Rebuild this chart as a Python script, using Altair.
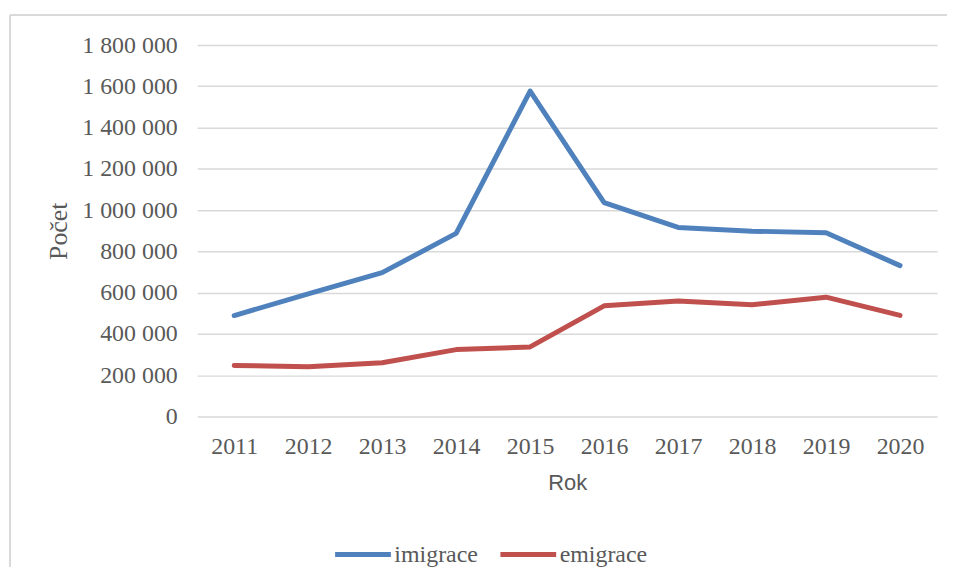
import altair as alt
import pandas as pd

years = ["2011", "2012", "2013", "2014", "2015", "2016", "2017", "2018", "2019", "2020"]
imigrace = [489000, 594000, 697000, 887000, 1577000, 1036000, 916000, 898000, 890000, 731000]
emigrace = [247000, 241000, 260000, 324000, 337000, 536000, 559000, 541000, 578000, 490000]
series_names = ["imigrace", "emigrace"]
series_colors = ["#4F81BD", "#C0504D"]
y_ticks = [0, 200000, 400000, 600000, 800000, 1000000, 1200000, 1400000, 1600000, 1800000]

rows = []
for name, vals in zip(series_names, [imigrace, emigrace]):
    for yr, v in zip(years, vals):
        rows.append({"Rok": yr, "Počet": v, "serie": name})
df = pd.DataFrame(rows)

label_color = "#595959"
serif = "Liberation Serif"

lines = alt.Chart(df).mark_line(strokeWidth=5, strokeCap="round", strokeJoin="round").encode(
    x=alt.X("Rok:N", sort=years,
            scale=alt.Scale(paddingInner=0, paddingOuter=0.5),
            axis=alt.Axis(title="Rok", labelAngle=0, ticks=False, domain=False,
                          labelFont=serif, labelFontSize=24, labelColor=label_color,
                          labelPadding=18, titleFont="Liberation Sans", titleFontSize=22,
                          titleFontWeight="normal", titleColor=label_color, titlePadding=14)),
    y=alt.Y("Počet:Q", scale=alt.Scale(domain=[0, 1800000]),
            axis=alt.Axis(title="Počet", values=y_ticks, ticks=False, domain=False,
                          labelExpr="replace(format(datum.value, ','), regexp(',', 'g'), ' ')",
                          labelFont=serif, labelFontSize=24, labelColor=label_color,
                          labelPadding=20, grid=True, gridColor="#D9D9D9", gridWidth=1.5,
                          titleFont=serif, titleFontSize=26, titleFontWeight="normal",
                          titleColor=label_color, titlePadding=10)),
    color=alt.Color("serie:N", sort=series_names,
                    scale=alt.Scale(domain=series_names, range=series_colors),
                    legend=alt.Legend(title=None, orient="none", direction="horizontal",
                                      legendX=136, legendY=481,
                                      symbolType="stroke", symbolSize=3136,
                                      symbolStrokeWidth=5, labelFont=serif,
                                      labelFontSize=24, labelColor=label_color,
                                      labelOffset=1, columnPadding=12)),
)

frame_top = alt.Chart(df).mark_rule(color="#D9D9D9", strokeWidth=1.5).encode(
    x=alt.value(-188), x2=alt.value(760), y=alt.value(-30))
frame_left = alt.Chart(df).mark_rule(color="#D9D9D9", strokeWidth=1.5).encode(
    x=alt.value(-188), y=alt.value(-30), y2=alt.value(560))

chart = alt.layer(frame_top, frame_left, lines).properties(
    width=743, height=373,
    autosize=alt.AutoSizeParams(type="none"),
    padding={"left": 190, "top": 36, "right": 10, "bottom": 150},
).configure(background="white", view=alt.ViewConfig(stroke=None))

chart.save("out.html", embed_options={"renderer": "svg", "actions": False})
